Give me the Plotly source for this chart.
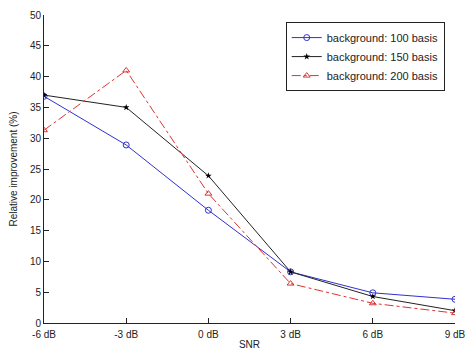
import plotly.graph_objects as go

snr_vals = [-6, -3, 0, 3, 6, 9]
snr_labels = ["-6 dB", "-3 dB", "0 dB", "3 dB", "6 dB", "9 dB"]
bg100 = [36.8, 28.9, 18.3, 8.3, 4.9, 3.85]
bg150 = [37.0, 35.0, 23.9, 8.3, 4.3, 2.0]
bg200 = [31.3, 41.0, 21.0, 6.4, 3.2, 1.6]
y_ticks = [0, 5, 10, 15, 20, 25, 30, 35, 40, 45, 50]

fig = go.Figure()
fig.add_trace(go.Scatter(x=snr_vals, y=bg100, mode="lines+markers", name="background: 100 basis",
                         line=dict(color="#3030d0", width=1),
                         marker=dict(symbol="circle-open", size=6, color="#3030d0", line=dict(width=1))))
fig.add_trace(go.Scatter(x=snr_vals, y=bg150, mode="lines+markers", name="background: 150 basis",
                         line=dict(color="#222222", width=1),
                         marker=dict(symbol="star", size=5, color="#000000")))
fig.add_trace(go.Scatter(x=snr_vals, y=bg200, mode="lines+markers", name="background: 200 basis",
                         line=dict(color="#dd3333", width=1, dash="dashdot"),
                         marker=dict(symbol="triangle-up-open", size=6, color="#dd3333", line=dict(width=1))))

fig.update_layout(
    width=467, height=350,
    margin=dict(l=44, r=12, t=15, b=27, autoexpand=False),
    paper_bgcolor="white", plot_bgcolor="white",
    font=dict(family="Liberation Sans, Arial, sans-serif", size=10, color="#222222"),
    showlegend=True,
    legend=dict(x=0.975, y=0.977, xanchor="right", yanchor="top",
                bgcolor="white", bordercolor="#222222", borderwidth=1,
                font=dict(size=11), tracegroupgap=0, itemwidth=30),
    xaxis=dict(range=[-6, 9], tickvals=snr_vals, ticktext=snr_labels, automargin=False,
               showgrid=False, zeroline=False, showline=True, linecolor="#222222", linewidth=1,
               ticks="inside", ticklen=5, tickcolor="#222222", ticklabelstandoff=2,
               title=dict(text="SNR", standoff=1, font=dict(size=10))),
    yaxis=dict(range=[0, 50], tickvals=y_ticks, automargin=False,
               showgrid=False, zeroline=False, showline=True, linecolor="#222222", linewidth=1,
               ticks="inside", ticklen=5, tickcolor="#222222",
               title=dict(text="Relative improvement (%)", standoff=10, font=dict(size=10))),
)

fig.write_html("out.html", config={"displayModeBar": False},
               post_script="document.body.style.margin='0';")
